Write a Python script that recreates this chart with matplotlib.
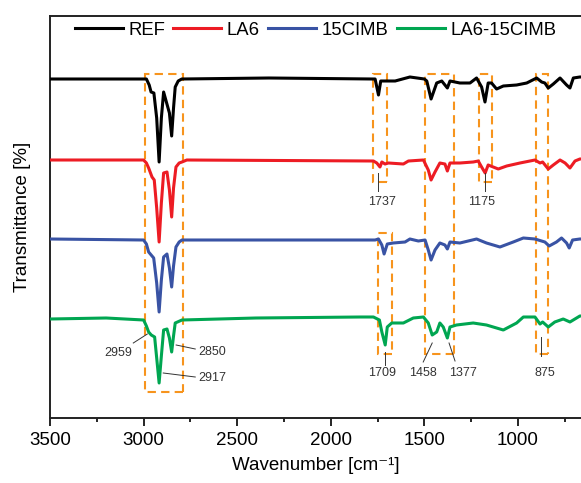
import numpy as np
import matplotlib
matplotlib.use("Agg")
import matplotlib.pyplot as plt
from matplotlib.patches import Rectangle

plt.rcParams['font.family'] = ['Liberation Sans', 'DejaVu Sans']

# spectra (wavenumber, transmittance in arbitrary offset units)
ref_wn = [3500, 2985, 2970, 2960, 2945, 2930, 2917, 2905, 2893, 2862, 2850, 2840, 2831, 2815,
          2796, 2330, 1775, 1763, 1745, 1733,
          1656, 1577, 1500, 1487, 1464, 1434, 1407, 1377, 1363, 1310, 1256, 1221, 1194, 1176,
          1159, 1141, 1114, 1078, 1007, 953, 900, 873, 856, 838, 811, 775, 740, 722, 704, 669, 660]
ref_t = [339, 339, 333, 326, 325, 300, 256, 300, 326, 305, 282, 310, 331, 337,
         339, 340, 339, 339, 323, 337,
         337, 341, 339, 337, 319, 335, 337, 330, 337, 335, 335, 340, 331, 316,
         335, 335, 329, 332, 333, 335, 340, 336, 335, 330, 334, 340, 333, 330, 340, 341, 341]

la6_wn = [3500, 3000, 2985, 2973, 2955, 2943, 2930, 2917, 2905, 2893, 2875, 2862, 2850, 2840,
          2827, 2810, 2795, 2769, 1772, 1754,
          1737, 1727, 1710, 1692, 1612, 1585, 1505, 1479, 1464, 1443, 1417, 1390, 1377, 1363,
          1310, 1239, 1212, 1194, 1175, 1159, 1132, 1105, 1060, 989, 909, 882, 868, 838, 811,
          775, 748, 722, 695, 669, 660]
la6_t = [258, 258, 255, 250, 241, 238, 210, 176, 215, 245, 246, 228, 201, 230,
         251, 255, 256, 258, 257, 255,
         251, 256, 254, 255, 254, 257, 258, 248, 238, 246, 255, 254, 247, 255,
         255, 256, 257, 251, 245, 253, 251, 249, 252, 255, 258, 255, 256, 249, 253,
         258, 255, 250, 257, 259, 259]

cimb_wn = [3500, 3000, 2985, 2973, 2946, 2930, 2917, 2905, 2893, 2875, 2862, 2850, 2840, 2827,
           2810, 2795, 1763, 1745, 1727, 1715,
           1698, 1666, 1603, 1577, 1532, 1496, 1479, 1464, 1443, 1417, 1390, 1377, 1363, 1310,
           1221, 1168, 1096, 1025, 971, 909, 856, 833, 794, 767, 740, 726, 708, 669, 660]
cimb_t = [179, 178, 174, 166, 160, 135, 106, 138, 161, 164, 150, 131, 152, 171,
          176, 178, 178, 179, 173, 164,
          174, 175, 176, 179, 177, 178, 168, 158, 168, 175, 173, 169, 176, 175,
          179, 175, 171, 176, 180, 179, 176, 172, 176, 180, 175, 170, 178, 179, 179]

mix_wn = [3500, 3200, 3000, 2985, 2973, 2959, 2941, 2930, 2917, 2905, 2893, 2875, 2862, 2850,
          2840, 2831, 2795, 2400, 1843,
          1772, 1740, 1727, 1709, 1698, 1674, 1612, 1559, 1505, 1479, 1458, 1434, 1417, 1399,
          1377, 1363, 1328, 1239, 1168, 1078, 1007, 971, 909, 882, 868, 838, 803, 758, 722,
          669, 660]
mix_t = [99, 100, 98, 92, 86, 83, 81, 60, 35, 62, 88, 89, 80, 66,
         82, 95, 98, 100, 101,
         101, 98, 86, 73, 91, 95, 95, 100, 101, 95, 83, 86, 95, 91,
         80, 91, 93, 95, 93, 88, 95, 101, 101, 94, 96, 91, 96, 99, 96,
         102, 102]

labels = ['REF', 'LA6', '15CIMB', 'LA6-15CIMB']
colors = ['#000000', '#ED1C24', '#3953A4', '#00A651']

# dashed highlight boxes: (high wn, low wn, top, bottom)
boxes = [(2995, 2787, 344, 26),
         (1772, 1698, 344, 236),
         (1208, 1137, 344, 236),
         (1496, 1340, 344, 64),
         (902, 841, 344, 64),
         (1746, 1671, 185, 64)]

# peak labels: text, text position, leader line start/end
peaks = [('2959', (3135, 65), (3055, 75), (2980, 84)),
         ('2850', (2633, 66), (2826, 73), (2724, 69)),
         ('2917', (2633, 40), (2895, 45), (2724, 41)),
         ('1737', (1726, 216), (1747, 245), (1747, 227)),
         ('1175', (1192, 216), (1176, 245), (1176, 227)),
         ('1709', (1726, 45), (1710, 66), (1710, 53)),
         ('1458', (1506, 45), (1506, 56), (1458, 75)),
         ('1377', (1293, 45), (1368, 75), (1336, 57)),
         ('875', (856, 45), (877, 81), (877, 62))]

fig = plt.figure(figsize=(5.81, 4.83), dpi=100)
ax = fig.add_axes([50/581, 1 - 418/483, 531/581, 402/483])

for (h, l, t, b) in boxes:
    ax.add_patch(Rectangle((l, b), h - l, t - b, fill=False, edgecolor='#F7941D',
                           lw=1.5, ls=(0, (4, 2.5)), zorder=1))

series = [(ref_wn, ref_t), (la6_wn, la6_t), (cimb_wn, cimb_t), (mix_wn, mix_t)]
for (wn, t), lab, c in zip(series, labels, colors):
    ax.plot(wn, t, color=c, lw=2.2, label=lab, zorder=3)

for txt, tpos, p1, p2 in peaks:
    ax.plot([p1[0], p2[0]], [p1[1], p2[1]], color='#333333', lw=0.7, zorder=4)
    ax.text(tpos[0], tpos[1], txt, fontsize=9, ha='center', va='center', color='#333333')

ax.set_xlim(3500, 663)
ax.set_ylim(0, 402)
ax.set_yticks([])
ax.set_xticks([3500, 3000, 2500, 2000, 1500, 1000])
ax.set_xticks(np.arange(3250, 600, -500), minor=True)
ax.tick_params(axis='x', which='major', direction='out', length=6, width=1.2, labelsize=13.5, pad=4)
ax.tick_params(axis='x', which='minor', direction='out', length=3, width=1.2)
ax.spines['right'].set_visible(False)
for s in ['left', 'top', 'bottom']:
    ax.spines[s].set_linewidth(1.4)
    ax.spines[s].set_color('#222222')

ax.set_xlabel('Wavenumber [cm\u207b\u00b9]', fontsize=13.5, labelpad=6)
ax.set_ylabel('Transmittance [%]', fontsize=13.5, labelpad=14)

ax.legend(loc='center', bbox_to_anchor=(0.5, 0.965), ncol=4, frameon=False, fontsize=13.3,
          handlelength=2.6, handletextpad=0.3, columnspacing=0.45)

fig.savefig('out.png', dpi=100)
